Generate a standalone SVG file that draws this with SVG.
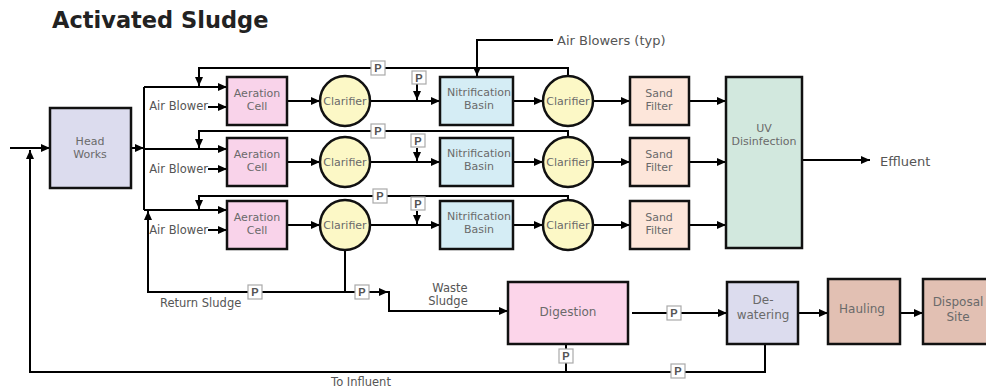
<svg xmlns="http://www.w3.org/2000/svg" width="986" height="390" viewBox="0 0 986 390">
<defs>
<marker id="ah" markerWidth="9" markerHeight="8" refX="9" refY="4" orient="auto" markerUnits="userSpaceOnUse"><path d="M0,0 L9,4 L0,8 z" fill="#000"/></marker>
<style>
.box{stroke:#111;stroke-width:2.5}
.ln{fill:none;stroke:#000;stroke-width:2}
.ar{fill:none;stroke:#000;stroke-width:2;marker-end:url(#ah)}
.t{font-family:"DejaVu Sans","Liberation Sans",sans-serif;font-size:11px;fill:#6a6a6a;text-anchor:middle}
.tb{font-size:12px}
.lb{font-family:"DejaVu Sans","Liberation Sans",sans-serif;font-size:11.5px;fill:#555}
.lg{font-size:13px}
.p rect{fill:#fff;stroke:#aaa;stroke-width:1.2}
.p text{font-family:"Liberation Sans",Arial,sans-serif;font-size:11px;font-weight:bold;fill:#555;text-anchor:middle}
.aer{fill:#f9d3ea}.cla{fill:#fcf8c6}.nit{fill:#d5edf5}.snd{fill:#fde6da}
</style>
</defs>
<rect width="986" height="390" fill="#fff"/>
<text x="52" y="28" font-family="DejaVu Sans,Liberation Sans,sans-serif" font-size="22.5" font-weight="bold" fill="#222">Activated Sludge</text>

<g id="connectors">
<path class="ar" d="M10,148 H50"/>
<path class="ar" d="M131,148 H144"/>
<path class="ln" d="M144,87 V210"/>
<!-- row 1 -->
<path class="ar" d="M144,87 H227"/>
<path class="ar" d="M208,107 H227"/>
<path class="ar" d="M568,76 V68 H199 V86"/>
<path class="ar" d="M287,101 H320"/>
<path class="ar" d="M370,101 H440"/>
<path class="ar" d="M417,84 V100"/>
<path class="ar" d="M513,101 H543"/>
<path class="ar" d="M593,101 H630"/>
<path class="ar" d="M689,101 H726"/>
<!-- row 2 -->
<path class="ar" d="M144,149 H227"/>
<path class="ar" d="M208,169 H227"/>
<path class="ar" d="M568,137 V131 H199 V148"/>
<path class="ar" d="M287,162 H320"/>
<path class="ar" d="M370,162 H440"/>
<path class="ar" d="M417,148 V161"/>
<path class="ar" d="M513,162 H543"/>
<path class="ar" d="M593,162 H630"/>
<path class="ar" d="M689,162 H726"/>
<!-- row 3 -->
<path class="ar" d="M144,210 H227"/>
<path class="ar" d="M208,230 H227"/>
<path class="ar" d="M568,200 V196 H199 V209"/>
<path class="ar" d="M287,225 H320"/>
<path class="ar" d="M370,225 H440"/>
<path class="ar" d="M417,211 V224"/>
<path class="ar" d="M513,225 H543"/>
<path class="ar" d="M593,225 H630"/>
<path class="ar" d="M689,225 H726"/>
<!-- air blowers typ -->
<path class="ar" d="M553,40 H477 V76"/>
<!-- effluent -->
<path class="ar" d="M802,160 H870"/>
<!-- sludge -->
<path class="ar" d="M345,250 V292 H148 V211"/>
<path class="ar" d="M345,292 H388"/>
<path class="ar" d="M389,291 V311 H508"/>
<path class="ar" d="M632,313 H727"/>
<path class="ar" d="M798,313 H828"/>
<path class="ar" d="M900,313 H923"/>
<path class="ln" d="M566,344 V372"/>
<path class="ar" d="M765,344 V372 H30 V150"/>
</g>

<g id="pumps">
<g class="p"><rect x="371" y="61" width="14" height="14"/><text x="378" y="72">P</text></g>
<g class="p"><rect x="371" y="124" width="14" height="14"/><text x="378" y="135">P</text></g>
<g class="p"><rect x="373" y="189" width="14" height="14"/><text x="380" y="200">P</text></g>
<g class="p"><rect x="412" y="71" width="14" height="13"/><text x="419" y="82">P</text></g>
<g class="p"><rect x="411" y="134" width="14" height="13"/><text x="418" y="145">P</text></g>
<g class="p"><rect x="411" y="197" width="14" height="13"/><text x="418" y="208">P</text></g>
<g class="p"><rect x="248" y="285" width="14" height="14"/><text x="255" y="296">P</text></g>
<g class="p"><rect x="355" y="285" width="14" height="14"/><text x="362" y="296">P</text></g>
<g class="p"><rect x="667" y="306" width="14" height="14"/><text x="674" y="317">P</text></g>
<g class="p"><rect x="559" y="349" width="14" height="14"/><text x="566" y="360">P</text></g>
<g class="p"><rect x="671" y="364" width="14" height="14"/><text x="678" y="375">P</text></g>
</g>

<g id="headworks"><rect class="box" x="50" y="108" width="81" height="80" fill="#dcdcee"/><text class="t" x="90" y="145">Head</text><text class="t" x="90" y="158">Works</text></g>

<g id="aeration1"><rect class="box aer" x="227" y="77" width="60" height="48"/><text class="t" x="257" y="97">Aeration</text><text class="t" x="257" y="110">Cell</text></g>
<g id="aeration2"><rect class="box aer" x="227" y="138" width="60" height="48"/><text class="t" x="257" y="158">Aeration</text><text class="t" x="257" y="171">Cell</text></g>
<g id="aeration3"><rect class="box aer" x="227" y="201" width="60" height="48"/><text class="t" x="257" y="221">Aeration</text><text class="t" x="257" y="234">Cell</text></g>

<g id="clarifier1a"><circle class="box cla" cx="345" cy="101" r="25"/><text class="t" x="345" y="105">Clarifier</text></g>
<g id="clarifier2a"><circle class="box cla" cx="345" cy="162" r="25"/><text class="t" x="345" y="166">Clarifier</text></g>
<g id="clarifier3a"><circle class="box cla" cx="345" cy="225" r="25"/><text class="t" x="345" y="229">Clarifier</text></g>

<g id="nitrification1"><rect class="box nit" x="440" y="77" width="73" height="48"/><text class="t" x="479" y="96">Nitrification</text><text class="t" x="479" y="109">Basin</text></g>
<g id="nitrification2"><rect class="box nit" x="440" y="138" width="73" height="48"/><text class="t" x="479" y="157">Nitrification</text><text class="t" x="479" y="170">Basin</text></g>
<g id="nitrification3"><rect class="box nit" x="440" y="201" width="73" height="48"/><text class="t" x="479" y="220">Nitrification</text><text class="t" x="479" y="233">Basin</text></g>

<g id="clarifier1b"><circle class="box cla" cx="568" cy="101" r="25"/><text class="t" x="568" y="105">Clarifier</text></g>
<g id="clarifier2b"><circle class="box cla" cx="568" cy="162" r="25"/><text class="t" x="568" y="166">Clarifier</text></g>
<g id="clarifier3b"><circle class="box cla" cx="568" cy="225" r="25"/><text class="t" x="568" y="229">Clarifier</text></g>

<g id="sand1"><rect class="box snd" x="630" y="77" width="59" height="48"/><text class="t" x="659" y="97">Sand</text><text class="t" x="659" y="110">Filter</text></g>
<g id="sand2"><rect class="box snd" x="630" y="138" width="59" height="48"/><text class="t" x="659" y="158">Sand</text><text class="t" x="659" y="171">Filter</text></g>
<g id="sand3"><rect class="box snd" x="630" y="201" width="59" height="48"/><text class="t" x="659" y="221">Sand</text><text class="t" x="659" y="234">Filter</text></g>

<g id="uv"><rect class="box" x="726" y="77" width="76" height="171" fill="#d2e8de"/><text class="t" x="764" y="132">UV</text><text class="t" x="764" y="145">Disinfection</text></g>

<g id="digestion"><rect class="box" x="508" y="282" width="120" height="62" fill="#fcd5ea"/><text class="t tb" x="568" y="316">Digestion</text></g>
<g id="dewatering"><rect class="box" x="727" y="282" width="71" height="62" fill="#dcdcee"/><text class="t tb" x="763" y="304">De-</text><text class="t tb" x="763" y="319">watering</text></g>
<g id="hauling"><rect class="box" x="828" y="279" width="72" height="65" fill="#e2c0b3"/><text class="t tb" x="862" y="313">Hauling</text></g>
<g id="disposal"><rect class="box" x="923" y="279" width="75" height="65" fill="#e2c0b3"/><text class="t tb" x="958" y="306">Disposal</text><text class="t tb" x="958" y="321">Site</text></g>

<g id="labels">
<text class="lb" x="208" y="110" text-anchor="end">Air Blower</text>
<text class="lb" x="208" y="173" text-anchor="end">Air Blower</text>
<text class="lb" x="208" y="234" text-anchor="end">Air Blower</text>
<text class="lb lg" x="557" y="45">Air Blowers (typ)</text>
<text class="lb lg" x="880" y="166">Effluent</text>
<text class="lb" x="160" y="307">Return Sludge</text>
<text class="lb" x="450" y="292" text-anchor="middle">Waste</text>
<text class="lb" x="448" y="305" text-anchor="middle">Sludge</text>
<text class="lb" x="361" y="386" text-anchor="middle">To Influent</text>
</g>
</svg>
